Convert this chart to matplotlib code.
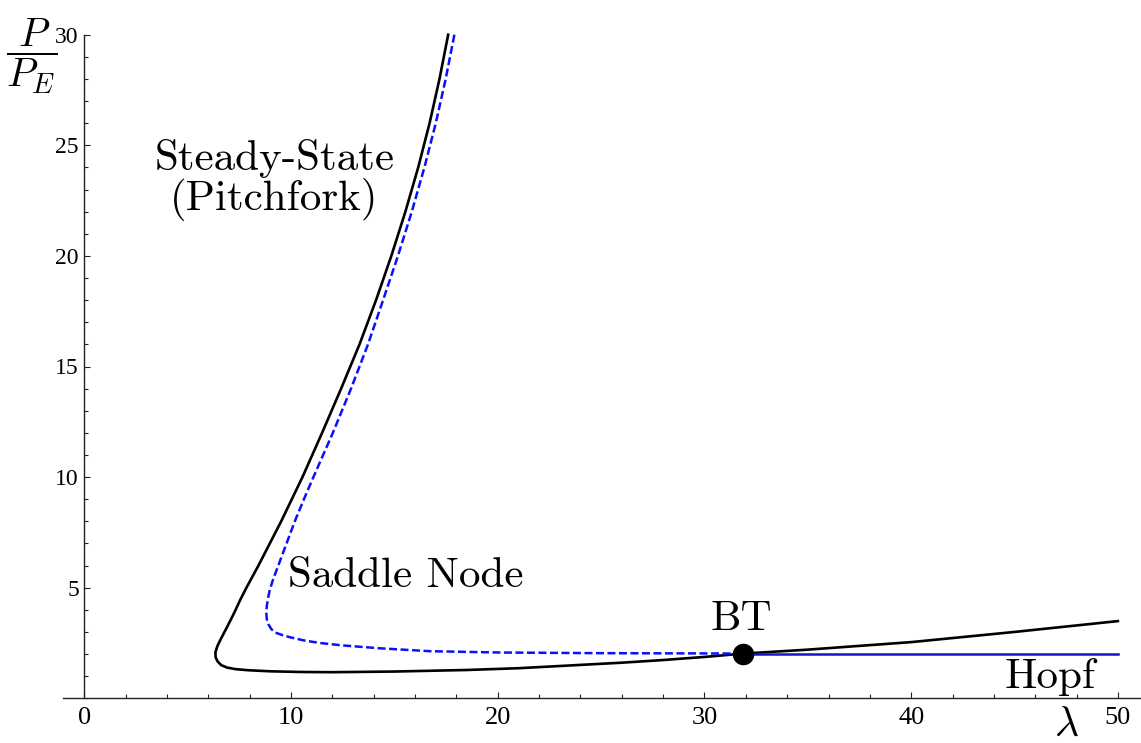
import numpy as np
import matplotlib.pyplot as plt
from matplotlib.ticker import MultipleLocator

plt.rcParams['mathtext.fontset'] = 'cm'

# steady-state (pitchfork) branch
pitch_x = [17.6, 17.18, 16.7, 16.15, 15.53, 14.85, 14.11, 13.31, 12.42, 11.5, 10.55, 9.52,
           8.42, 7.84, 7.54, 7.2, 6.88, 6.6, 6.43, 6.34, 6.35, 6.45, 6.62, 6.9, 7.3,
           7.9, 9.0, 10.5, 12.0, 15.0, 18.5, 21.0, 23.0, 26.0, 28.0, 30.0, 31.85,
           35.0, 40.0, 45.0, 50.0]
pitch_y = [30.0, 28.0, 26.0, 24.0, 22.0, 20.0, 18.0, 16.0, 14.0, 12.0, 10.0, 8.0,
           6.0, 5.0, 4.45, 3.77, 3.18, 2.68, 2.35, 2.08, 1.85, 1.66, 1.5, 1.39, 1.32,
           1.27, 1.22, 1.19, 1.18, 1.21, 1.28, 1.36, 1.46, 1.61, 1.73, 1.87, 2.02,
           2.2, 2.54, 3.0, 3.49]

# saddle node branch
saddle_x = [17.9, 17.48, 17.0, 16.45, 15.84, 15.17, 14.45, 13.72, 12.9, 12.02, 11.08,
            10.62, 10.18, 9.78, 9.38, 9.12, 8.97, 8.88, 8.83, 8.8, 8.82, 8.9, 9.05, 9.3,
            9.6, 9.95, 10.6, 11.4, 12.5, 14.3, 16.7, 20.1, 25.0, 29.8, 31.85]
saddle_y = [30.0, 28.0, 26.0, 24.0, 22.0, 20.0, 18.0, 16.0, 14.0, 12.0, 10.0,
            9.0, 8.0, 7.0, 6.0, 5.35, 4.9, 4.5, 4.2, 3.9, 3.6, 3.35, 3.12, 2.95,
            2.85, 2.76, 2.62, 2.5, 2.39, 2.26, 2.13, 2.07, 2.04, 2.03, 2.02]

# Hopf branch
hopf_x = [31.85, 50.0]
hopf_y = [2.02, 2.02]

bt_x, bt_y = 31.85, 2.02

W, H = 1141, 743
fig = plt.figure(figsize=(W / 100, H / 100), dpi=100)
ax = fig.add_axes([63.3 / W, 1 - 698.3 / H, (1140 - 63.3) / W, (698.3 - 34.7) / H])

ax.plot(pitch_x, pitch_y, color='black', lw=1.9, clip_on=False, zorder=3)
ax.plot(saddle_x, saddle_y, color='#0a10ff', lw=1.8, linestyle=(0, (3.2, 1.4)),
        clip_on=False, zorder=3)
ax.plot(hopf_x, hopf_y, color='#1414cc', lw=1.8, clip_on=False, zorder=3)
ax.plot([bt_x], [bt_y], 'o', color='black', markersize=14.5, zorder=5, clip_on=False)

ax.set_xlim(-1.02, 51.07)
ax.set_ylim(0, 30)

for s in ['top', 'right']:
    ax.spines[s].set_visible(False)
ax.spines['left'].set_position(('data', 0))
for s in ['left', 'bottom']:
    ax.spines[s].set_color('#222222')
    ax.spines[s].set_linewidth(1.0)

ax.xaxis.set_major_locator(MultipleLocator(10))
ax.xaxis.set_minor_locator(MultipleLocator(2))
ax.yaxis.set_major_locator(MultipleLocator(5))
ax.yaxis.set_minor_locator(MultipleLocator(1))
ax.set_yticks([5, 10, 15, 20, 25, 30])

ax.tick_params(which='both', direction='in', color='#222222', width=0.8)
ax.tick_params(which='major', length=4)
ax.tick_params(which='minor', length=2.8)
ax.tick_params(axis='x', pad=6)
ax.tick_params(axis='y', pad=4)
for lab in ax.get_xticklabels():
    lab.set_fontfamily('Liberation Serif')
    lab.set_fontsize(19)
for lab in ax.get_yticklabels():
    lab.set_fontfamily('Liberation Serif')
    lab.set_fontsize(17)

txt = dict(fontfamily='cmr10', fontsize=31, color='black')
ax.text(9.2, 23.45, 'Steady-State\n(Pitchfork)', ha='center', va='center',
        linespacing=1.0, **txt)
ax.text(9.85, 5.03, 'Saddle Node', ha='left', va='baseline', **txt)
ax.text(31.8, 3.09, 'BT', ha='center', va='baseline', **txt)
ax.text(44.54, 0.45, 'Hopf', ha='left', va='baseline', **txt)

fig.text(1066 / W, 1 - 724 / H, r'$\lambda$', ha='center', va='center', fontsize=30)
fig.text(32 / W, 1 - 56 / H, r'$\dfrac{P}{P_E}$', ha='center', va='center', fontsize=29)

fig.savefig('out.png', dpi=100)
